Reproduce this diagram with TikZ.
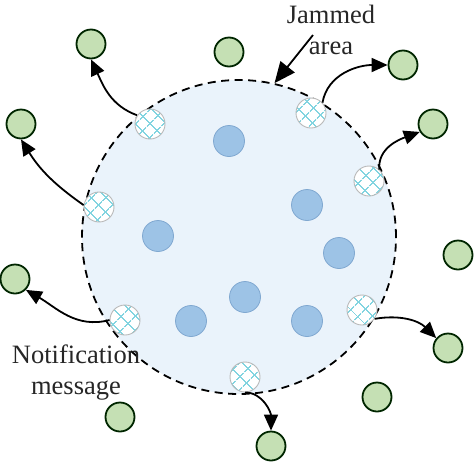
\documentclass[tikz,border=0pt]{standalone}
\usepackage{fontspec}
\setmainfont{Liberation Serif}
\usetikzlibrary{arrows.meta,patterns.meta}
\definecolor{nodegreen}{RGB}{197,224,180}
\definecolor{nodeblue}{RGB}{157,195,230}
\definecolor{blueedge}{RGB}{128,168,208}
\definecolor{areablue}{RGB}{234,243,251}
\definecolor{hatchcyan}{RGB}{130,212,224}

\begin{document}
\begin{tikzpicture}[x=1pt,y=1pt, every node/.style={font=\fontsize{26.5}{31}\selectfont, text=black!85},
    farnode/.style={circle, draw=black!85!green, line width=1.8pt, fill=nodegreen, minimum size=29pt, inner sep=0pt},
    corenode/.style={circle, draw=blueedge, line width=0.8pt, fill=nodeblue, minimum size=31pt, inner sep=0pt},
    edgenode/.style={circle, draw=gray!55, line width=0.9pt, minimum size=30pt, inner sep=0pt, preaction={fill=white}, pattern={Hatch[angle=45,distance=10.5pt,line width=1.4pt]}, pattern color=hatchcyan},
    msg/.style={-{Triangle[length=16pt,width=14pt]}, line width=1.8pt}]
    \useasboundingbox (0,0) rectangle (474,-464);
    % jammed area
    \node[circle, draw, dash pattern=on 8pt off 5.5pt, line width=1.8pt, fill=areablue, minimum size=314pt] (area) at (239,-237) {};
    % nodes outside the area
    \node[farnode] (far1) at (91,-44) {};
    \node[farnode] (far2) at (229,-52) {};
    \node[farnode] (far3) at (403,-65) {};
    \node[farnode] (far4) at (433,-124) {};
    \node[farnode] (far5) at (21,-124) {};
    \node[farnode] (far6) at (15,-279) {};
    \node[farnode] (far7) at (458,-255) {};
    \node[farnode] (far8) at (448,-348) {};
    \node[farnode] (far9) at (377,-397) {};
    \node[farnode] (far10) at (120,-417) {};
    \node[farnode] (far11) at (271,-446) {};
    % jammed nodes
    \node[corenode] (core1) at (229,-141) {};
    \node[corenode] (core2) at (307,-205) {};
    \node[corenode] (core3) at (158,-236) {};
    \node[corenode] (core4) at (339,-253) {};
    \node[corenode] (core5) at (245,-297) {};
    \node[corenode] (core6) at (191,-321) {};
    \node[corenode] (core7) at (307,-321) {};
    % boundary nodes
    \node[edgenode] (edge1) at (150,-124) {};
    \node[edgenode] (edge2) at (311,-113) {};
    \node[edgenode] (edge3) at (369,-181) {};
    \node[edgenode] (edge4) at (99,-207) {};
    \node[edgenode] (edge5) at (125,-320) {};
    \node[edgenode] (edge6) at (362,-310) {};
    \node[edgenode] (edge7) at (245,-377) {};
    % notification messages
    \draw[msg] (edge1.146) to[out=160,in=-65] (far1.south);
    \draw[msg] (edge2.42) to[out=80,in=180] (far3.west);
    \draw[msg] (edge3.48) to[out=95,in=200] (far4.211);
    \draw[msg] (edge4.173) to[out=145,in=-58] (far5.south);
    \draw[msg] (edge5.west) to[out=195,in=-30] (far6.-45);
    \draw[msg] (edge6.-35) to[out=10,in=135] (far8.140);
    \draw[msg] (edge7.south) to[out=0,in=90] (far11.north);
    % labels
    \node[align=center] (jamlabel) at (331,-30) {Jammed\\area};
    \coordinate (jamtail) at (313,-35);
    \draw[-{Triangle[length=21pt,width=18pt]}, line width=1.8pt] (jamtail) -- (area.77);
    \node[align=center] (msglabel) at (76,-373) {Notification\\message};
\end{tikzpicture}
\end{document}
